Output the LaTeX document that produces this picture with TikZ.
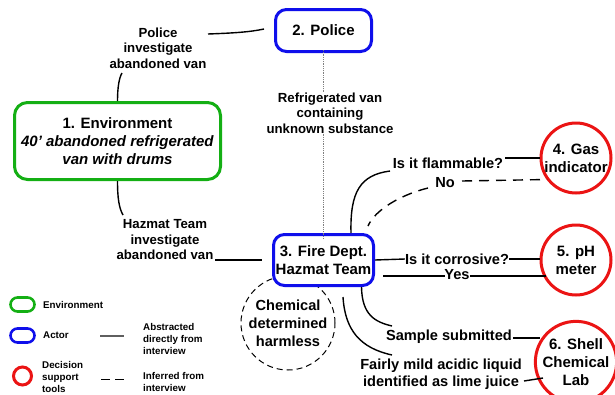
\documentclass[tikz,border=0pt]{standalone}
\usepackage{fontspec}
\setmainfont{Liberation Sans}
\definecolor{envgreen}{RGB}{20,175,20}
\definecolor{actblue}{RGB}{15,15,235}
\definecolor{toolred}{RGB}{235,20,20}
\definecolor{leggray}{RGB}{95,95,95}
\begin{document}
\begin{tikzpicture}[x=1pt,y=-1pt,
  nodefont/.style={font=\fontsize{15}{18}\selectfont\bfseries},
  lblfont/.style={font=\fontsize{13.2}{15.5}\selectfont\bfseries},
  rlblfont/.style={font=\fontsize{14.6}{17.5}\selectfont\bfseries},
  legfont/.style={font=\fontsize{9.8}{11.8}\selectfont\bfseries},
  envbox/.style={draw=envgreen, line width=3pt, rounded corners=13pt, fill=white, align=center, inner sep=0pt, nodefont},
  actbox/.style={draw=actblue, line width=3pt, rounded corners=11pt, fill=white, align=center, inner sep=0pt, nodefont},
  toolcirc/.style={circle, draw=toolred, line width=3pt, fill=white, minimum size=70pt, align=center, inner sep=0pt, nodefont},
  lbl/.style={align=center, inner sep=0pt, lblfont},
  rlbl/.style={align=center, inner sep=0pt, rlblfont},
  link/.style={draw=black, line width=1.4pt},
  inferred/.style={draw=black, line width=1.4pt, dash pattern=on 10pt off 7pt},
  dotline/.style={draw=gray, line width=0.8pt, densely dotted},
  legtext/.style={align=left, inner sep=0pt, anchor=west, legfont}
]
\useasboundingbox (0,0) rectangle (615,394);

% harmless circle (under the box)
\node[circle, draw=black, line width=1pt, dash pattern=on 6pt off 4pt, minimum size=94pt, align=center, inner sep=0pt, font=\fontsize{14.6}{18}\selectfont\bfseries] (harm) at (288,323) {Chemical\\determined\\harmless};

% main nodes
\node[actbox, minimum width=96pt, minimum height=42pt] (n2) at (323.5,30.5) {2. Police};
\node[envbox, minimum width=206pt, minimum height=77pt] (n1) at (117.5,141) {1. Environment\\\textit{40{\char"27} abandoned refrigerated}\\\textit{van with drums}};
\node[actbox, minimum width=100pt, minimum height=51pt] (n3) at (323.5,260) {3. Fire Dept.\\Hazmat Team};
\node[toolcirc] (n4) at (576,158) {4. Gas\\indicator};
\node[toolcirc] (n5) at (576,260) {5. pH\\meter};
\node[toolcirc] (n6) at (576,362) {6. Shell\\Chemical\\Lab};

% labels
\node[lbl] (lPol) at (158,48) {Police\\investigate\\abandoned van};
\node[lbl] (lRef) at (330,113) {Refrigerated van\\containing\\unknown substance};
\node[lbl] (lHaz) at (165,240) {Hazmat Team\\investigate\\abandoned van};
\node[rlbl] (lFla) at (448,163) {Is it flammable?};
\node[rlbl] (lNo) at (445,183) {No};
\node[rlbl] (lCor) at (457,259) {Is it corrosive?};
\node[rlbl] (lYes) at (457,275) {Yes};
\node[rlbl] (lSam) at (449,337) {Sample submitted};
\node[rlbl] (lLim) at (441,374) {Fairly mild acidic liquid\\identified as lime juice};

% coordinates for connector ends
\coordinate (cPolA) at (208,34);
\coordinate (cPolB) at (122,73);
\coordinate (cHazA) at (123,215);
\coordinate (cHazB) at (215,260);
\coordinate (cFlaA) at (390,171);
\coordinate (cFlaB) at (505,158);
\coordinate (cNoA) at (428,188);
\coordinate (cNoB) at (462,181);
\coordinate (cNoEnd) at (368,226);
\coordinate (cYesA) at (383,276);
\coordinate (cYesB) at (445,276);
\coordinate (cYesC) at (470,276);
\coordinate (cSamA) at (392,326);
\coordinate (cSamB) at (513,338);
\coordinate (cLimS) at (343,297);
\coordinate (cLimA) at (392,355);
\coordinate (cLimB) at (524,381);

% connectors
\draw[link] (cPolA) .. controls (235,33) and (250,32) .. ([xshift=-10pt,yshift=1.5pt]n2.west);
\draw[link] (n1.north) .. controls (117.5,88) and (119,78) .. (cPolB);
\draw[link] (n1.south) .. controls (117.5,198) and (119,208) .. (cHazA);
\draw[link] (cHazB) -- ([xshift=-10pt]n3.west);
\draw[dotline] ([yshift=3pt]n2.south) -- (n2.south |- lRef.north);
\draw[dotline] (n2.south |- lRef.south) -- ([yshift=-5pt]n3.north);
\draw[link] ([xshift=27.5pt]n3.north) .. controls (350,192) and (360,175) .. (cFlaA);
\draw[link] (cFlaB) -- (n4.west |- cFlaB);
\draw[inferred] (cNoA) .. controls (400,195) and (375,210) .. (cNoEnd);
\draw[inferred] (cNoB) -- (547,179.5);
\draw[link] (n3.east) -- (lCor.west);
\draw[link] (lCor.east) -- (n5.west |- lCor.east);
\draw[link] (cYesA) -- (cYesB);
\draw[link] (cYesC) -- (546,276);
\draw[link] ([xshift=38pt]n3.south) .. controls (362,315) and (375,322) .. (cSamA);
\draw[link] (cSamB) -- (540,338);
\draw[link] (cLimS) .. controls (345,330) and (360,348) .. (cLimA);
\draw[link] (cLimB) -- (543,378);

% legend
\node[draw=envgreen, line width=2.6pt, rounded corners=7pt, minimum width=24pt, minimum height=14pt, inner sep=0pt] (gEnv) at (22.5,304.5) {};
\node[draw=actblue, line width=2.6pt, rounded corners=7pt, minimum width=24pt, minimum height=14pt, inner sep=0pt] (gAct) at (22.5,335.5) {};
\node[circle, draw=toolred, line width=3pt, minimum size=18pt, inner sep=0pt] (gTool) at (22.5,376) {};
\node[legtext] (tEnv) at (43,304.5) {Environment};
\node[legtext] (tAct) at (43,335.5) {Actor};
\node[legtext] (tTool) at (42,377) {Decision\\support\\tools};
\coordinate (sA) at (100,336);
\coordinate (sB) at (124,336);
\draw[draw=leggray, line width=1.6pt] (sA) -- (sB);
\coordinate (dA) at (101,379.5);
\coordinate (dB) at (124,379.5);
\draw[draw=black, line width=1.4pt, dash pattern=on 9pt off 5pt] (dA) -- (dB);
\node[legtext] (tAbs) at (143,339) {Abstracted\\directly from\\interview};
\node[legtext] (tInf) at (143,382) {Inferred from\\interview};
\end{tikzpicture}
\end{document}
